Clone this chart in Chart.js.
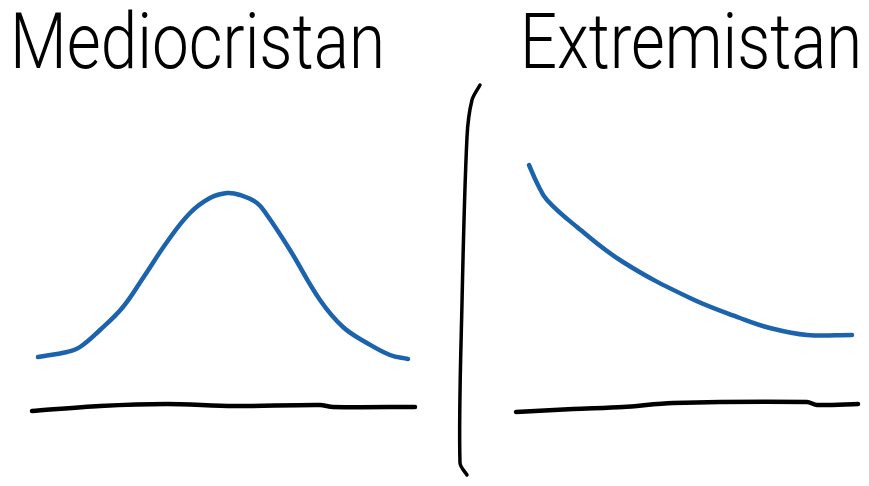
<!DOCTYPE html>
<html>
<head>
<meta charset="utf-8">
<script src="https://cdn.jsdelivr.net/npm/chart.js@4"></script>
<style>
  html, body { margin: 0; padding: 0; background: #fff; }
  #wrap { position: relative; width: 869px; height: 486px; overflow: hidden; }
  canvas { position: absolute; left: 0; top: 0; }
  .title {
    position: absolute;
    top: 3px;
    font-family: Roboto, "Liberation Sans", sans-serif;
    font-weight: 300;
    font-size: 78px;
    line-height: 78px;
    color: #000;
    white-space: nowrap;
    transform-origin: 0 0;
  }
  #t1 { left: 10px; }
  #t2 { left: 520px; }
</style>
</head>
<body>
<div id="wrap">
  <canvas id="sketch" width="869" height="486"></canvas>
  <div class="title" id="t1" data-w="375">Mediocristan</div>
  <div class="title" id="t2" data-w="342">Extremistan</div>
</div>
<script>
// Values; y is height above the bottom edge
const bellX = [38, 67, 80, 100, 123, 143, 167, 190, 210, 227, 240, 257, 267, 290, 320, 343, 367, 390, 408];
const bellY = [129, 134, 139, 156, 179, 208, 244, 273, 288, 293, 291, 283, 271, 236, 186, 159, 143, 131, 127];

const tailX = [529, 537, 547, 577, 623, 690, 740, 770, 807, 852];
const tailY = [321, 303, 286, 259, 224, 188, 168, 158, 151, 151];

const leftBaseX = [32, 100, 167, 233, 320, 333, 415];
const leftBaseY = [75, 80, 82, 80, 81, 79, 79];

const rightBaseX = [516, 573, 623, 673, 807, 817, 858];
const rightBaseY = [74, 77, 79, 83, 84, 81, 82];

const dividerX = [480, 472, 467, 462, 460, 467];
const dividerY = [401, 386, 349, 183, 23, 11];

const BLUE = '#1c63ad';

// squeeze the titles to the width of the handwritten ones
document.querySelectorAll('.title').forEach(el => {
    const w = el.getBoundingClientRect().width;
    el.style.transform = 'scaleX(' + (el.dataset.w / w) + ')';
});

function pts(xs, ys) {
    return xs.map((x, i) => ({ x: x, y: ys[i] }));
}

function stroke(label, xs, ys, color, width, tension) {
    return {
        label: label,
        data: pts(xs, ys),
        showLine: true,
        borderColor: color,
        borderWidth: width,
        borderCapStyle: 'round',
        borderJoinStyle: 'round',
        pointRadius: 0,
        tension: tension,
        fill: false
    };
}

new Chart(document.getElementById('sketch'), {
    type: 'scatter',
    data: {
        datasets: [
            stroke('Mediocristan', bellX, bellY, BLUE, 4.5, 0.4),
            stroke('Extremistan', tailX, tailY, BLUE, 4.5, 0.4),
            stroke('left axis', leftBaseX, leftBaseY, '#000', 4.5, 0.3),
            stroke('right axis', rightBaseX, rightBaseY, '#000', 4.5, 0.3),
            stroke('divider', dividerX, dividerY, '#000', 3.5, 0.3)
        ]
    },
    options: {
        responsive: false,
        animation: false,
        layout: { padding: 0 },
        plugins: { legend: { display: false }, tooltip: { enabled: false } },
        scales: {
            x: { type: 'linear', min: 0, max: 869, display: false },
            y: { type: 'linear', min: 0, max: 486, display: false }
        }
    }
});
</script>
</body>
</html>
